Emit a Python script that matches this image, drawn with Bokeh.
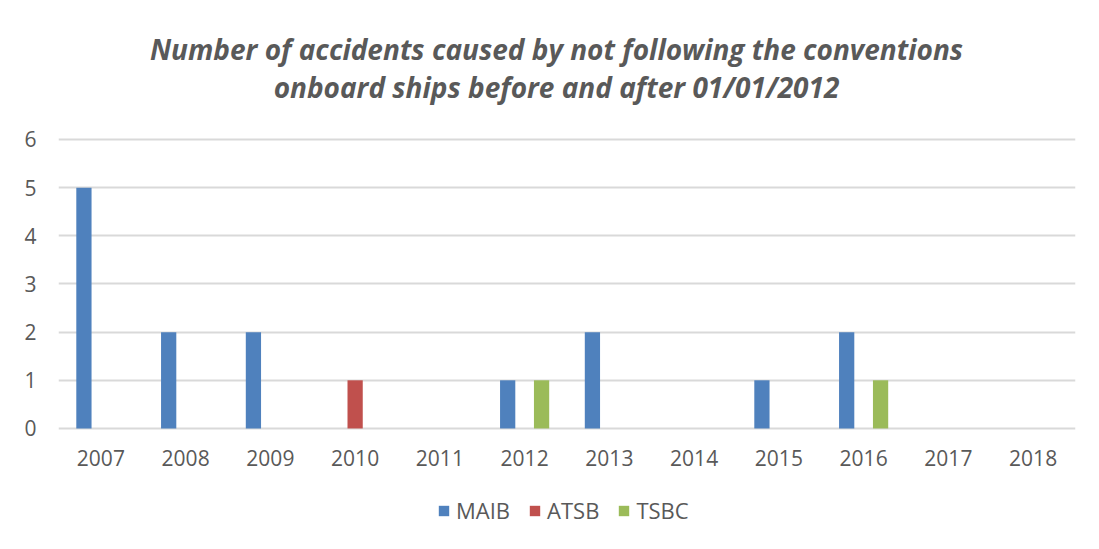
from bokeh.plotting import figure
from bokeh.models import ColumnDataSource, FactorRange, Legend, LegendItem, Label, Range1d
from bokeh.transform import dodge
from bokeh.embed import file_html
from bokeh.resources import INLINE

years = ["2007", "2008", "2009", "2010", "2011", "2012", "2013", "2014", "2015", "2016", "2017", "2018"]
maib = [5, 2, 2, 0, 0, 1, 2, 0, 1, 2, 0, 0]
atsb = [0, 0, 0, 1, 0, 0, 0, 0, 0, 0, 0, 0]
tsbc = [0, 0, 0, 0, 0, 1, 0, 0, 0, 1, 0, 0]
series = ["MAIB", "ATSB", "TSBC"]
colors = ["#4F81BD", "#C0504D", "#9BBB59"]
title_lines = ["Number of accidents caused by not following the conventions",
               "onboard ships before and after 01/01/2012"]
y_ticks = [0, 1, 2, 3, 4, 5, 6]

src = ColumnDataSource(dict(year=years, MAIB=maib, ATSB=atsb, TSBC=tsbc))

# the frame spans the whole height; the value axis 0..6 sits in its middle part,
# the room above holds the title and the room below the category labels and legend
p = figure(x_range=FactorRange(*years), y_range=Range1d(-2.43, 8.886),
           frame_width=1017, frame_height=545,
           output_backend="svg", toolbar_location=None, title=None,
           min_border_left=58, min_border_right=17, min_border_top=0, min_border_bottom=0)

for t, ty in zip(title_lines, [7.889, 7.08]):
    p.add_layout(Label(x=5.876, y=ty, text=t, text_align="center", text_baseline="middle",
                       text_font="Open Sans", text_font_style="bold italic",
                       text_font_size="28px", text_color="#595959"))

items = []
for s, c, off in zip(series, colors, [-0.2, 0.0, 0.2]):
    r = p.vbar(x=dodge("year", off, range=p.x_range), top=s, width=0.18, source=src,
               fill_color=c, line_color=None)
    items.append(LegendItem(label=s, renderers=[r]))

legend = Legend(items=items, orientation="horizontal", location=(379, 20),
                label_text_font="Open Sans", label_text_font_size="22px", label_text_color="#595959",
                glyph_width=13, glyph_height=13, spacing=18, label_standoff=6,
                border_line_color=None, background_fill_alpha=0, margin=0, padding=0)
p.add_layout(legend)

p.xgrid.grid_line_color = None
p.ygrid.grid_line_color = "#d9d9d9"
p.ygrid.grid_line_width = 2
p.yaxis.ticker = y_ticks
p.xaxis.fixed_location = 0
for ax in (p.xaxis, p.yaxis):
    ax.axis_line_color = None
    ax.major_tick_line_color = None
    ax.minor_tick_line_color = None
    ax.major_label_text_font = "Open Sans"
    ax.major_label_text_font_size = "21px"
    ax.major_label_text_color = "#595959"
p.xaxis.major_label_standoff = 16
p.yaxis.major_label_standoff = 16
p.outline_line_color = None
p.x_range.range_padding = 0
p.x_range.group_padding = 0

open("out.html", "w").write(file_html(p, INLINE))
